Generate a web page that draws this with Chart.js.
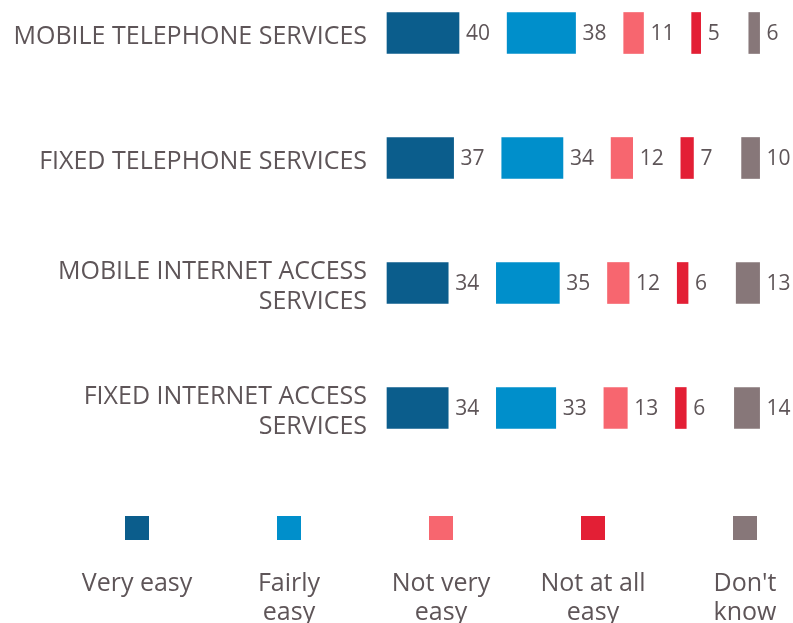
<!DOCTYPE html>
<html>
<head>
<meta charset="utf-8">
<script src="https://cdn.jsdelivr.net/npm/chart.js@4/dist/chart.umd.min.js"></script>
<style>
  html, body { margin: 0; padding: 0; background: #ffffff; }
  #wrap { width: 793px; height: 623px; position: relative; overflow: hidden; }
</style>
</head>
<body>
<div id="wrap"><canvas id="c" width="793" height="623"></canvas></div>
<script>
// Services asked about (multi-line labels as arrays)
const categories = [
  ['MOBILE TELEPHONE SERVICES'],
  ['FIXED TELEPHONE SERVICES'],
  ['MOBILE INTERNET ACCESS', 'SERVICES'],
  ['FIXED INTERNET ACCESS', 'SERVICES']
];

// Answer shares (%) per service
const veryEasy     = [40, 37, 34, 34];
const fairlyEasy   = [38, 34, 35, 33];
const notVeryEasy  = [11, 12, 12, 13];
const notAtAllEasy = [5, 7, 6, 6];
const dontKnow     = [6, 10, 13, 14];

const seriesNames  = ['Very easy', 'Fairly easy', 'Not very easy', 'Not at all easy', "Don't know"];
const legendLines  = [['Very easy'], ['Fairly', 'easy'], ['Not very', 'easy'], ['Not at all', 'easy'], ["Don't", 'know']];
const seriesColors = ['#0b5d8c', '#008fcb', '#f7666f', '#e31f35', '#877779'];

const TEXT = '#5e5558';
const FONT = '"Open Sans", "Noto Sans", sans-serif';
const GAP = 26.75;          // blank space between answer segments, in axis units

const series = [veryEasy, fairlyEasy, notVeryEasy, notAtAllEasy, dontKnow];

// Each answer becomes a floating bar that starts after the previous ones plus a gap
const datasets = series.map((vals, si) => ({
  label: seriesNames[si],
  data: vals.map((v, row) => {
    let start = si * GAP;
    for (let k = 0; k < si; k++) start += series[k][row];
    return [start, start + v];
  }),
  values: vals,
  backgroundColor: seriesColors[si],
  borderWidth: 0,
  barThickness: 41,
  grouped: false,
  clip: false
}));

const valueLabels = {
  id: 'valueLabels',
  afterDatasetsDraw(chart) {
    const ctx = chart.ctx;
    ctx.save();
    ctx.font = '21px ' + FONT;
    ctx.fillStyle = TEXT;
    ctx.textAlign = 'left';
    ctx.textBaseline = 'middle';
    chart.data.datasets.forEach((ds, i) => {
      chart.getDatasetMeta(i).data.forEach((bar, j) => {
        ctx.fillText(String(ds.values[j]), bar.x + 7, bar.y + 1);
      });
    });
    ctx.restore();
  }
};

const boxLegend = {
  id: 'boxLegend',
  afterDraw(chart) {
    const ctx = chart.ctx;
    ctx.save();
    const x0 = 137, step = 152, boxY = 528, box = 24;
    ctx.font = '25px ' + FONT;
    ctx.textAlign = 'center';
    ctx.textBaseline = 'alphabetic';
    chart.data.datasets.forEach((ds, i) => {
      const cx = x0 + i * step;
      ctx.fillStyle = ds.backgroundColor;
      ctx.fillRect(cx - box / 2, boxY - box / 2, box, box);
      ctx.fillStyle = TEXT;
      legendLines[i].forEach((line, k) => {
        ctx.fillText(line, cx, 591 + k * 29);
      });
    });
    ctx.restore();
  }
};

new Chart(document.getElementById('c'), {
  type: 'bar',
  data: { labels: categories, datasets },
  options: {
    indexAxis: 'y',
    responsive: false,
    animation: false,
    devicePixelRatio: 1,
    layout: { padding: { top: 33, bottom: 215, left: 0, right: 1 } },
    plugins: { legend: { display: false }, tooltip: { enabled: false } },
    scales: {
      x: { display: false, min: 0, max: 225 },
      y: {
        offset: false,
        grid: { display: false },
        border: { display: false },
        ticks: {
          padding: 12,
          labelOffset: 4,
          color: TEXT,
          font: { family: FONT, size: 25, lineHeight: 1.18 }
        },
        afterFit(scale) {
          scale.width = 387;
          scale.paddingTop = 0;
          scale.paddingBottom = 0;
        }
      }
    }
  },
  plugins: [valueLabels, boxLegend]
});
</script>
</body>
</html>
